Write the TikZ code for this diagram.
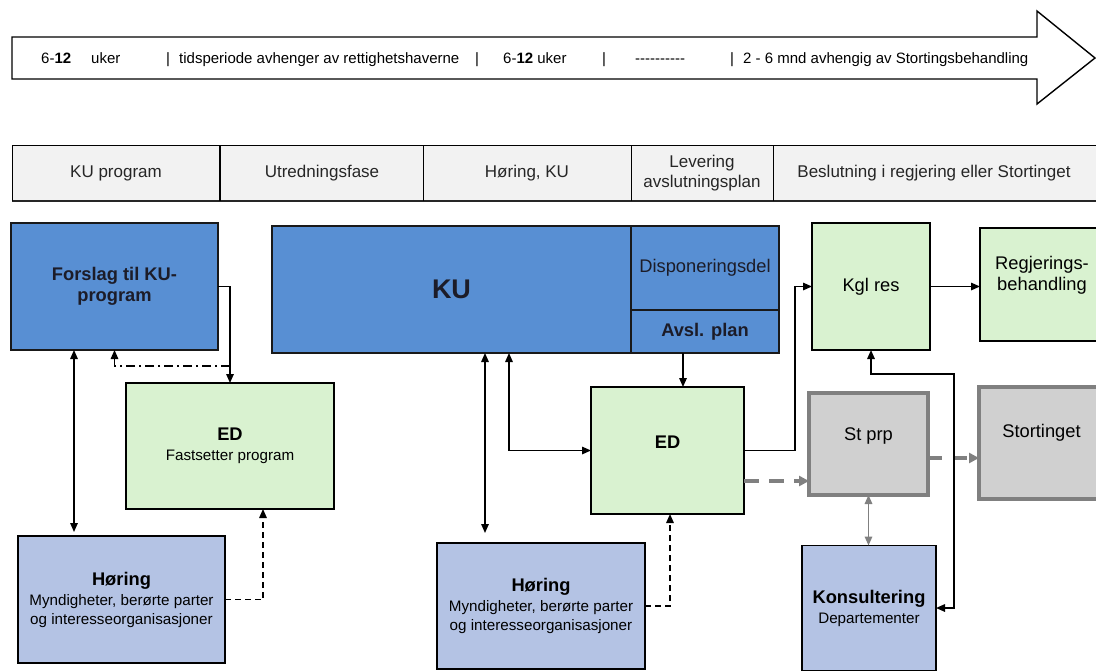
\documentclass[tikz,border=0pt]{standalone}
\usepackage{fontspec}
\setmainfont{Liberation Sans}
\usetikzlibrary{arrows.meta}
\definecolor{kublue}{HTML}{588FD3}
\definecolor{lav}{HTML}{B4C3E4}
\definecolor{lgreen}{HTML}{D9F2D0}
\definecolor{gfill}{HTML}{D0D0D0}
\definecolor{gline}{HTML}{808080}
\definecolor{barfill}{HTML}{F2F2F2}
\definecolor{darktext}{HTML}{1C1C28}
\newcommand{\bigf}{\fontsize{18.3}{21}\selectfont}
\begin{document}
\begin{tikzpicture}[x=1pt,y=-1pt,
  box/.style={draw=black, line width=1.6pt, inner sep=0pt, outer sep=0pt, align=center, font=\bigf},
  subbox/.style={font=\fontsize{15.2}{19}\selectfont},
  bluebox/.style={box, fill=kublue, text=darktext, line width=2pt, draw=black!90},
  greenbox/.style={box, fill=lgreen},
  lavbox/.style={box, fill=lav},
  graybox/.style={box, fill=gfill, draw=gline, line width=3.2pt},
  bandtext/.style={anchor=base west, inner sep=0pt, font=\fontsize{15}{18}\selectfont},
  phasetext/.style={align=center, inner sep=0pt, font=\fontsize{17}{20}\selectfont, text=black!85},
  onetip/.style={-{Triangle[length=9pt,width=7.5pt]}},
  twotip/.style={{Triangle[length=9pt,width=7.5pt]}-{Triangle[length=9pt,width=7.5pt]}},
  conn/.style={line width=1.5pt, draw=black},
  gconn/.style={line width=1.6pt, draw=gline}
]
\useasboundingbox (0,0) rectangle (1096,670);

% top time arrow
\draw[line width=1.4pt, fill=white] (12,37) -- (1037,37) -- (1037,11) -- (1095,58) -- (1037,104) -- (1037,79) -- (12,79) -- cycle;
\node[bandtext] (t1) at (41,63) {6-\textbf{12}};
\node[bandtext] (t1b) at (91,63) {uker};
\node[bandtext] (t2a) at (166,63) {|};
\node[bandtext] (t2) at (179,63) {tidsperiode avhenger av rettighetshaverne};
\node[bandtext] (t2b) at (475,63) {|};
\node[bandtext] (t3) at (503,63) {6-\textbf{12} uker};
\node[bandtext] (t4) at (602,63) {|};
\node[bandtext] (t5) at (635,63) {-{}-{}-{}-{}-{}-{}-{}-{}-{}-};
\node[bandtext] (t6a) at (730,63) {|};
\node[bandtext] (t6) at (743,63) {2 - 6 mnd avhengig av Stortingsbehandling};

% phase bar
\fill[barfill] (12,145) rectangle (1096,201);
\draw[line width=1pt] (12,145) -- (1096,145);
\draw[line width=2.2pt, draw=black!85] (12,201) -- (1096,201);
\draw[line width=1pt] (12,145) -- (12,201);
\draw[line width=2.6pt] (220,145) -- (220,201);
\draw[line width=0.8pt] (423,145) -- (423,201);
\draw[line width=0.8pt] (631,145) -- (631,201);
\draw[line width=0.8pt] (773,145) -- (773,201);
\node[phasetext] (p1) at (116,173) {KU program};
\node[phasetext] (p2) at (322,173) {Utredningsfase};
\node[phasetext] (p3) at (527,173) {Høring, KU};
\node[phasetext] (p4) at (702,173) {Levering\\avslutningsplan};
\node[phasetext] (p5) at (934,173) {Beslutning i regjering eller Stortinget};

% boxes
\node[bluebox, minimum width=207pt, minimum height=127pt, font=\bfseries\fontsize{18.3}{21}\selectfont] (forslag) at (114.5,286.5) {Forslag til KU-\\program};
\node[bluebox, minimum width=359pt, minimum height=127pt, font=\bfseries\fontsize{27}{30}\selectfont] (ku) at (451.5,289.5) {KU};
\node[bluebox, minimum width=148pt, minimum height=84pt] (dispo) at (705,268) {Disponeringsdel};
\node[bluebox, minimum width=148pt, minimum height=43pt, font=\bfseries\bigf] (avsl) at (705,331.5) {Avsl. plan};

\node[greenbox, subbox, minimum width=208pt, minimum height=126pt] (edL) at (230,446) {{\bfseries\bigf ED}\\[1pt]Fastsetter program};
\node[lavbox, subbox, minimum width=207pt, minimum height=127pt] (horL) at (121.5,599.5) {{\bfseries\bigf Høring}\\[1pt]Myndigheter, berørte parter\\og interesseorganisasjoner};
\node[lavbox, subbox, minimum width=208pt, minimum height=126pt] (horC) at (541,606) {{\bfseries\bigf Høring}\\[1pt]Myndigheter, berørte parter\\og interesseorganisasjoner};
\node[greenbox, minimum width=153pt, minimum height=127pt, label={[yshift=8pt, font=\bfseries\bigf]center:ED}] (edC) at (667.5,450.5) {};

\node[greenbox, minimum width=118pt, minimum height=127pt] (kgl) at (871,286.5) {Kgl res};
\node[greenbox, minimum width=124pt, minimum height=113pt, label={[yshift=9.5pt, align=center, font=\bigf]center:Regjerings-\\behandling}] (reg) at (1042,284.5) {};
\node[graybox, minimum width=119pt, minimum height=102pt, label={[yshift=8pt, font=\bigf]center:St prp}] (stprp) at (868.5,444) {};
\node[graybox, minimum width=125pt, minimum height=112pt, label={[yshift=10pt, font=\bigf]center:Stortinget}] (stort) at (1041.5,443) {};
\node[lavbox, subbox, minimum width=134pt, minimum height=125pt] (kons) at (869,608) {{\bfseries\bigf Konsultering}\\[1pt]Departementer};

% connectors left
\draw[conn, onetip] (forslag.east) -| (edL.north);
\coordinate (dd) at (230,366);
\draw[conn, onetip, dash pattern=on 9pt off 4pt on 2pt off 4pt] (dd) -| (forslag.south);
\draw[conn, twotip, shorten >=4pt] ([xshift=-40.5pt]forslag.south) -- ([xshift=-40.5pt]forslag.south |- horL.north);
\draw[conn, onetip, dash pattern=on 6pt off 4pt] (horL.east) -| ([xshift=33pt]edL.south);

% connectors centre
\draw[conn, twotip, shorten >=10pt] ([xshift=33.5pt]ku.south) -- ([xshift=33.5pt]ku.south |- horC.north);
\draw[conn, twotip] ([xshift=57.5pt]ku.south) |- (edC.west);
\draw[conn, onetip] ([xshift=-22pt]avsl.south) -- ([xshift=-22pt]avsl.south |- edC.north);
\draw[conn, onetip, dash pattern=on 6pt off 4pt] (horC.east) -| ([xshift=2.5pt]edC.south);
\draw[conn, onetip] (edC.east) -- ++(51,0) |- (kgl.west);
\draw[conn, onetip] (kgl.east) -- (kgl.east -| reg.west);

% grey connectors
\draw[gconn, line width=3.5pt, dash pattern=on 15pt off 10pt, -{Triangle[length=10pt,width=10pt]}] ([yshift=-30.5pt]edC.east) -- ([yshift=-30.5pt]edC.east -| stprp.west);
\draw[gconn, line width=3.5pt, dash pattern=on 14pt off 11pt, -{Triangle[length=10pt,width=10pt]}] ([yshift=-14pt]stprp.east) -- ([yshift=-14pt]stprp.east -| stort.west);
\draw[gconn, twotip] (stprp.south) -- (stprp.south |- kons.north);

% Konsultering - Kgl res
\coordinate (k1) at (954,374);
\draw[conn, twotip] (kons.east) -| (k1) -| (kgl.south);
\end{tikzpicture}
\end{document}
